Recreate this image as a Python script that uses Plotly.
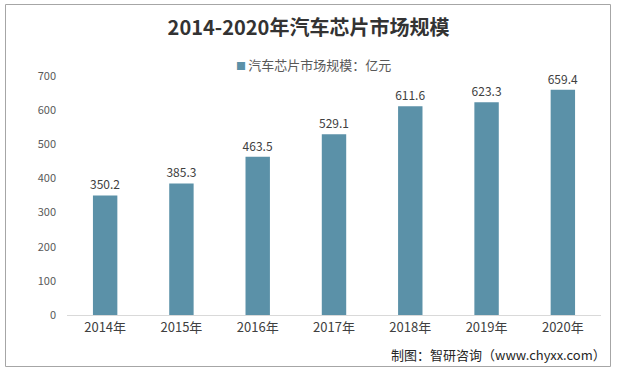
import plotly.graph_objects as go

years = ["2014年", "2015年", "2016年", "2017年", "2018年", "2019年", "2020年"]
values = [350.2, 385.3, 463.5, 529.1, 611.6, 623.3, 659.4]
series_name = "汽车芯片市场规模：亿元"
title = "2014-2020年汽车芯片市场规模"
source = "制图：智研咨询（www.chyxx.com）"

L, R, T, B = 67, 16, 76, 58
W, H = 617, 373
pw, ph = W - L - R, H - T - B
BAR = "#5B91A8"

def px(x):
    return (x - L) / pw

def py(y):
    return (H - B - y) / ph

fig = go.Figure(go.Bar(
    x=years, y=values, name=series_name,
    marker=dict(color=BAR, line=dict(width=0)),
    width=0.32,
    text=[f"{v:.1f}" for v in values], textposition="outside",
    constraintext="none",
    textfont=dict(size=12, color="#404040", family="Noto Sans CJK SC"),
    cliponaxis=False,
))

fig.update_layout(
    width=W, height=H,
    margin=dict(l=L, r=R, t=T, b=B, autoexpand=False),
    paper_bgcolor="white", plot_bgcolor="white",
    font=dict(family="Noto Sans CJK SC", size=12, color="#595959"),
    title=dict(text="<b>" + title + "</b>", x=0.5, xref="container", xanchor="center",
               y=1 - 28 / H, yref="container", yanchor="middle",
               font=dict(size=20, color="#333333", family="Noto Sans CJK SC")),
    showlegend=False,
    xaxis=dict(showline=True, linecolor="#D9D9D9", linewidth=1, ticks="", automargin=False,
               tickfont=dict(size=13, color="#404040")),
    yaxis=dict(range=[0, 700], dtick=100, showgrid=False, showline=False, zeroline=False,
               ticks="", automargin=False, ticklabelstandoff=10,
               tickfont=dict(size=11, color="#595959")),
    shapes=[dict(type="rect", xref="paper", yref="paper",
                 x0=px(5.5), x1=px(610.5), y0=py(366.5), y1=py(4.5),
                 line=dict(color="#A6A6A6", width=1), fillcolor="rgba(0,0,0,0)")],
    annotations=[
        dict(text=f"<span style='color:{BAR};font-size:10px'>■ </span>" + series_name,
             xref="paper", yref="paper", x=px(313), y=py(64),
             xanchor="center", yanchor="middle", showarrow=False,
             font=dict(size=13, color="#595959", family="Noto Sans CJK SC")),
        dict(text=source, xref="paper", yref="paper", x=px(608), y=py(354),
             xanchor="right", yanchor="middle", showarrow=False,
             font=dict(size=13, color="#262626", family="Noto Sans CJK SC")),
    ],
)

fig.write_html("out.html", config={"displayModeBar": False},
               post_script="document.body.style.margin='0';")
